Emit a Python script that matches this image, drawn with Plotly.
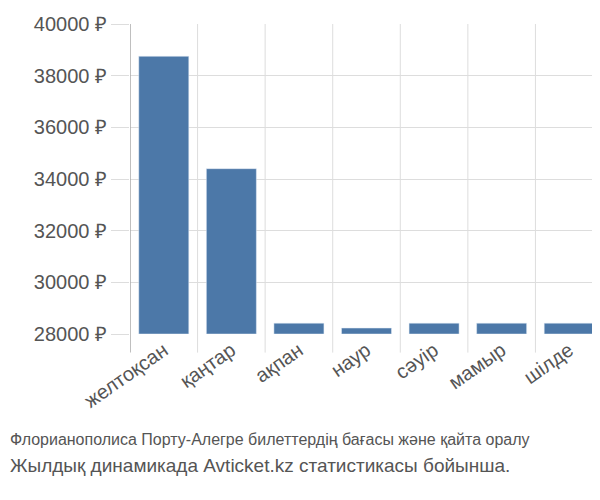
import plotly.graph_objects as go

months = ['желтоқсан', 'қаңтар', 'ақпан', 'наур', 'сәуір', 'мамыр', 'шілде']
prices = [38750, 34400, 28420, 28230, 28420, 28420, 28420]
ticks = [28000, 30000, 32000, 34000, 36000, 38000, 40000]

fig = go.Figure(go.Bar(
    x=months, y=[p - 28000 for p in prices], base=28000,
    marker_color='#4c78a8', width=0.74
))

# vertical separators between categories, running a little below the plot
for i in range(len(months)):
    fig.add_shape(type='line', xref='x', yref='paper', x0=i + 0.5, x1=i + 0.5,
                  y0=-0.06, y1=1, line=dict(color='#dddddd', width=1), layer='below')
fig.add_shape(type='line', xref='x', yref='paper', x0=-0.5, x1=-0.5,
              y0=-0.06, y1=1, line=dict(color='#aaaaaa', width=1.5))

fig.update_layout(
    width=600, height=500,
    margin=dict(l=122, r=5, t=16, b=174, autoexpand=False),
    plot_bgcolor='white', paper_bgcolor='white',
    font=dict(family='Liberation Sans, Arial, sans-serif', size=20, color='#555555'),
    showlegend=False,
)
fig.update_xaxes(range=[-0.5, 6.5], tickangle=-35, showgrid=False, ticks='')
fig.update_yaxes(range=[28000, 40000], tickvals=ticks,
                 ticktext=[f'{t} ₽' for t in ticks], gridcolor='#dddddd',
                 zeroline=False, ticks='outside', ticklen=18, tickcolor='#dddddd')

fig.add_annotation(text='Флорианополиса Порту-Алегре билеттердің бағасы және қайта оралу',
                   xref='paper', yref='paper', x=-0.258, y=-0.375, xanchor='left',
                   showarrow=False, font=dict(size=16, color='#555555'))
fig.add_annotation(text='Жылдық динамикада Avticket.kz статистикасы бойынша.',
                   xref='paper', yref='paper', x=-0.258, y=-0.465, xanchor='left',
                   showarrow=False, font=dict(size=19, color='#555555'))

fig.write_html('out.html')
